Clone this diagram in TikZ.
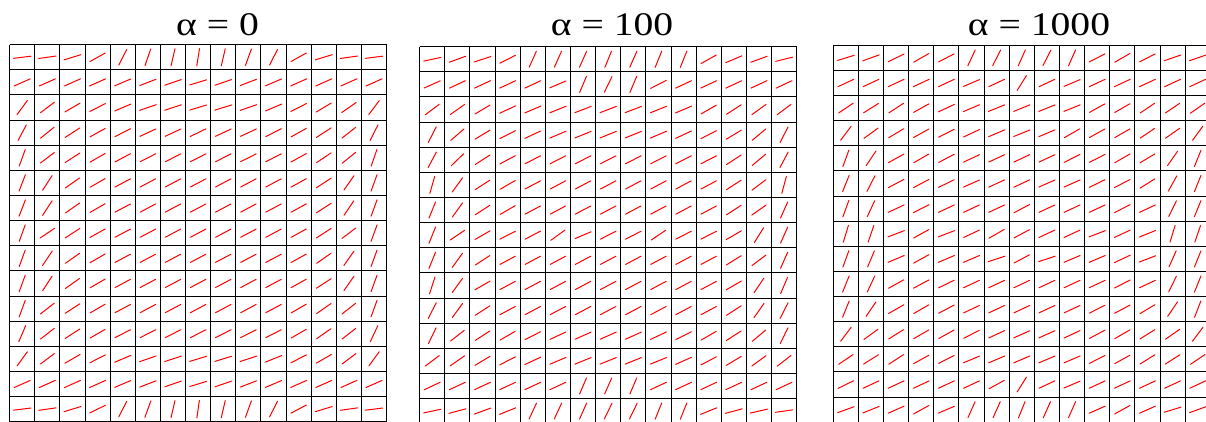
\documentclass[tikz,border=0pt]{standalone}
\usepackage{fontspec}
\setmainfont{Liberation Serif}
\usepackage{graphicx}
\begin{document}
\begin{tikzpicture}[x=1pt,y=-1pt,
  gridline/.style={black,line width=1pt},
  seg/.style={red,line width=1pt,line cap=round},
  ttl/.style={inner sep=0pt,anchor=base,font=\fontsize{33}{36}\selectfont}]
\useasboundingbox (0,0) rectangle (1206,421);
\def\cs{25.13}
\def\hl{8.75}
\newcommand\fieldgrid[3]{%
  \foreach \k in {0,...,15} {
    \draw[gridline] ({#1+\k*\cs},#2) -- ({#1+\k*\cs},{#2+15*\cs});
    \draw[gridline] (#1,{#2+\k*\cs}) -- ({#1+15*\cs},{#2+\k*\cs});
  }
  \foreach \row [count=\r from 0] in {#3} {
    \foreach \a [count=\c from 0] in \row {
      \pgfmathsetmacro\cx{#1+(\c+0.5)*\cs}
      \pgfmathsetmacro\cy{#2+(\r+0.5)*\cs}
      \draw[seg] ({\cx+\hl*cos(\a)},{\cy-\hl*sin(\a)}) -- ({\cx-\hl*cos(\a)},{\cy+\hl*sin(\a)});
    }
  }
}
% alpha = 0
\fieldgrid{9.67}{44.7}{
{7,8,17,29,63,71,77,81,77,70,63,29,17,8,7},
{24,24,24,24,23,21,19,17,19,21,23,24,24,24,24},
{54,37,30,27,23,19,18,17,17,19,23,27,31,35,53},
{62,39,33,29,27,25,25,26,25,25,27,29,33,38,63},
{70,37,33,30,28,27,27,27,27,27,27,29,34,39,71},
{69,57,35,30,28,28,28,28,28,28,28,29,33,55,70},
{69,57,35,30,28,28,28,28,28,28,28,29,33,56,70},
{70,34,33,29,28,28,28,28,28,28,28,29,33,37,70},
{70,56,35,30,28,28,28,28,28,28,28,29,35,55,70},
{70,57,35,30,28,28,28,28,28,28,28,29,33,55,70},
{70,38,33,30,28,28,28,28,28,28,28,30,35,38,70},
{67,38,33,30,27,27,27,27,27,27,27,30,35,38,65},
{54,37,30,27,23,19,18,17,17,18,22,27,30,37,54},
{24,24,24,24,23,21,19,17,19,21,23,24,24,24,24},
{7,8,17,26,63,70,77,82,77,70,63,28,17,8,7}}
% alpha = 100
\fieldgrid{419.7}{46.7}{
{12,20,18,27,66,66,66,68,66,68,68,29,23,20,14},
{24,25,25,25,25,23,67,64,67,27,25,25,25,25,25},
{37,35,31,25,23,22,21,21,21,22,23,30,33,36,37},
{63,41,31,27,25,23,22,22,22,23,25,27,31,40,63},
{62,44,33,28,27,27,27,27,27,27,27,27,33,40,62},
{74,54,33,30,28,28,28,28,28,28,28,28,33,37,75},
{68,54,33,30,28,28,28,28,28,28,28,28,33,35,66},
{68,34,30,27,28,36,23,27,27,34,27,27,30,58,66},
{68,54,33,28,28,28,28,28,28,28,28,28,32,37,66},
{72,54,30,28,28,28,28,28,28,28,28,28,30,56,67},
{63,54,33,28,28,28,28,28,28,28,28,28,33,55,63},
{64,38,33,30,27,25,24,24,24,25,27,30,33,40,64},
{37,35,31,27,25,23,22,22,22,22,24,28,31,36,38},
{25,25,25,25,25,25,67,66,67,25,25,25,25,25,25},
{12,15,20,22,65,65,66,64,64,68,68,22,15,13,8}}
% alpha = 1000
\fieldgrid{833.3}{45.3}{
{17,20,26,30,27,65,63,66,63,66,27,30,27,19,19},
{25,25,25,25,25,23,25,58,25,23,25,25,25,25,25},
{34,32,33,29,25,23,22,22,22,22,29,30,34,34,35},
{53,36,31,29,27,25,23,22,23,30,29,30,34,35,54},
{70,56,29,30,28,25,25,25,25,27,27,30,31,55,68},
{68,63,28,28,26,24,25,25,24,24,26,27,32,61,68},
{70,65,25,27,25,25,25,28,25,25,25,27,25,64,68},
{73,71,21,29,21,25,30,28,25,25,21,25,22,73,71},
{70,67,23,29,23,23,18,28,18,23,23,25,21,66,68},
{68,65,29,28,26,25,25,25,25,25,25,27,25,64,68},
{68,56,30,30,28,25,25,25,25,25,27,28,31,56,69},
{53,36,32,30,29,27,25,24,24,25,28,30,32,35,53},
{34,32,33,29,27,23,23,23,23,23,27,29,32,33,34},
{26,25,25,25,25,25,29,58,25,23,25,25,25,25,25},
{20,22,24,29,23,66,66,68,66,66,24,29,24,17,20}}
\node[ttl] (t1) at (217.5,35) {\scalebox{1.2}[1]{α = 0}};
\node[ttl] (t2) at (612,35) {\scalebox{1.2}[1]{α = 100}};
\node[ttl] (t3) at (1039,35) {\scalebox{1.2}[1]{α = 1000}};
\end{tikzpicture}
\end{document}
